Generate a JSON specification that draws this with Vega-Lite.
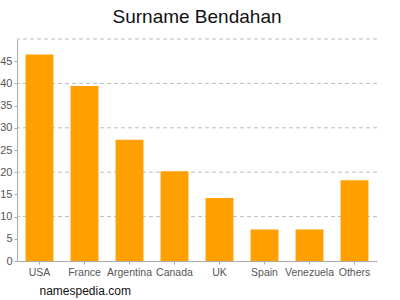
{
  "$schema": "https://vega.github.io/schema/vega-lite/v6.json",
  "width": 360,
  "height": 222,
  "autosize": {"type": "none"},
  "padding": {"left": 17, "top": 39, "right": 23, "bottom": 39},
  "background": "white",
  "config": {"view": {"stroke": null}},
  "title": {
    "text": "Surname Bendahan",
    "fontSize": 19,
    "font": "Liberation Sans",
    "fontWeight": "normal",
    "color": "#111111",
    "anchor": "middle",
    "offset": 12
  },
  "data": {
    "values": [
      {"country": "USA", "count": 46.5},
      {"country": "France", "count": 39.4},
      {"country": "Argentina", "count": 27.3},
      {"country": "Canada", "count": 20.2},
      {"country": "UK", "count": 14.2},
      {"country": "Spain", "count": 7.1},
      {"country": "Venezuela", "count": 7.1},
      {"country": "Others", "count": 18.2}
    ]
  },
  "layer": [
    {
      "mark": {"type": "rule", "color": "#bbbbbb", "strokeDash": [4, 3], "strokeWidth": 1},
      "data": {"values": [{"v": 10}, {"v": 20}, {"v": 30}, {"v": 40}, {"v": 50}]},
      "encoding": {
        "y": {
          "field": "v",
          "type": "quantitative",
          "scale": {"domain": [0, 50], "nice": false},
          "axis": {
            "title": null,
            "values": [0, 5, 10, 15, 20, 25, 30, 35, 40, 45],
            "labelFont": "Liberation Sans",
            "labelFontSize": 11,
            "labelColor": "#555555",
            "labelPadding": 2,
            "domainColor": "#aaaaaa",
            "tickColor": "#aaaaaa",
            "tickSize": 3,
            "grid": false
          }
        }
      }
    },
    {
      "mark": {"type": "bar", "color": "#ffa000"},
      "encoding": {
        "x": {
          "field": "country",
          "type": "nominal",
          "sort": null,
          "scale": {"paddingInner": 0.38, "paddingOuter": 0.19},
          "axis": {
            "title": "namespedia.com",
            "titleFont": "Liberation Sans",
            "titleFontSize": 12,
            "titleFontWeight": "normal",
            "titleColor": "#111111",
            "titleAnchor": "start",
            "titleAlign": "left",
            "titleX": 22,
            "titlePadding": 8,
            "labelAngle": 0,
            "labelFont": "Liberation Sans",
            "labelFontSize": 10.5,
            "labelColor": "#555555",
            "labelPadding": 3,
            "domainColor": "#aaaaaa",
            "tickColor": "#aaaaaa",
            "tickSize": 3,
            "grid": false
          }
        },
        "y": {
          "field": "count",
          "type": "quantitative",
          "scale": {"domain": [0, 50], "nice": false},
          "axis": {
            "title": null,
            "values": [0, 5, 10, 15, 20, 25, 30, 35, 40, 45],
            "labelFont": "Liberation Sans",
            "labelFontSize": 11,
            "labelColor": "#555555",
            "labelPadding": 2,
            "domainColor": "#aaaaaa",
            "tickColor": "#aaaaaa",
            "tickSize": 3,
            "grid": false
          }
        }
      }
    }
  ]
}
